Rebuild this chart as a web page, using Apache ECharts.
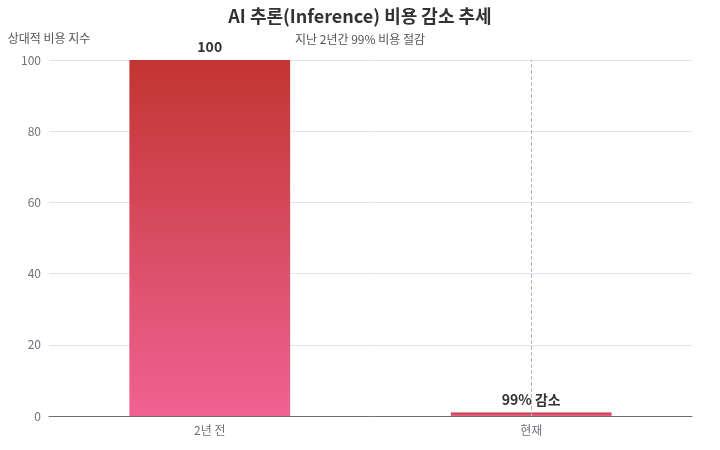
<!DOCTYPE html>
<html>
<head>
<meta charset="utf-8">
<script src="https://cdn.jsdelivr.net/npm/echarts@6/dist/echarts.min.js"></script>
<style>
html,body{margin:0;padding:0;background:#fff;}
#chart{width:720px;height:450px;}
</style>
</head>
<body>
<div id="chart"></div>
<script>
var categories = ['2년 전', '현재'];
var costIndex = [100, 1];
var barLabels = ['100', '99% 감소'];
var titleText = 'AI 추론(Inference) 비용 감소 추세';
var subText = '지난 2년간 99% 비용 절감';
var yAxisName = '상대적 비용 지수';

var chart = echarts.init(document.getElementById('chart'));
var font = '"Noto Sans CJK KR", "Noto Sans", sans-serif';
chart.setOption({
  animation: false,
  textStyle: { fontFamily: font },
  title: {
    text: titleText,
    subtext: subText,
    left: 'center',
    top: 2,
    itemGap: 8,
    textStyle: { fontSize: 18, fontWeight: 'bold', color: '#333', fontFamily: font },
    subtextStyle: { fontSize: 12, color: '#555', fontFamily: font }
  },
  grid: { left: 49, right: 28, top: 60, bottom: 34 },
  xAxis: {
    type: 'category',
    data: categories,
    axisLine: { lineStyle: { color: '#6e7079' } },
    axisTick: { alignWithLabel: true },
    axisLabel: { color: '#6e7079', fontSize: 12, margin: 8 }
  },
  yAxis: {
    type: 'value',
    min: 0,
    max: 100,
    interval: 20,
    name: yAxisName,
    nameLocation: 'end',
    nameGap: 16,
    nameTextStyle: { color: '#555', fontSize: 12 },
    axisLabel: { color: '#6e7079', fontSize: 12 },
    splitLine: { lineStyle: { color: '#e0e6f1' } }
  },
  series: [{
    type: 'bar',
    barWidth: '50%',
    data: costIndex,
    itemStyle: {
      color: new echarts.graphic.LinearGradient(0, 0, 0, 1, [
        { offset: 0, color: '#c23531' },
        { offset: 1, color: '#f06292' }
      ])
    },
    label: {
      show: true,
      position: 'top',
      distance: 6,
      fontSize: 14,
      fontWeight: 'bold',
      color: '#333',
      formatter: function (p) { return barLabels[p.dataIndex]; }
    },
    markLine: {
      silent: true,
      symbol: 'none',
      label: { show: false },
      lineStyle: { type: 'dashed', color: '#b0b3c0', width: 1 },
      data: [{ xAxis: categories[1] }]
    }
  }]
});
</script>
</body>
</html>
